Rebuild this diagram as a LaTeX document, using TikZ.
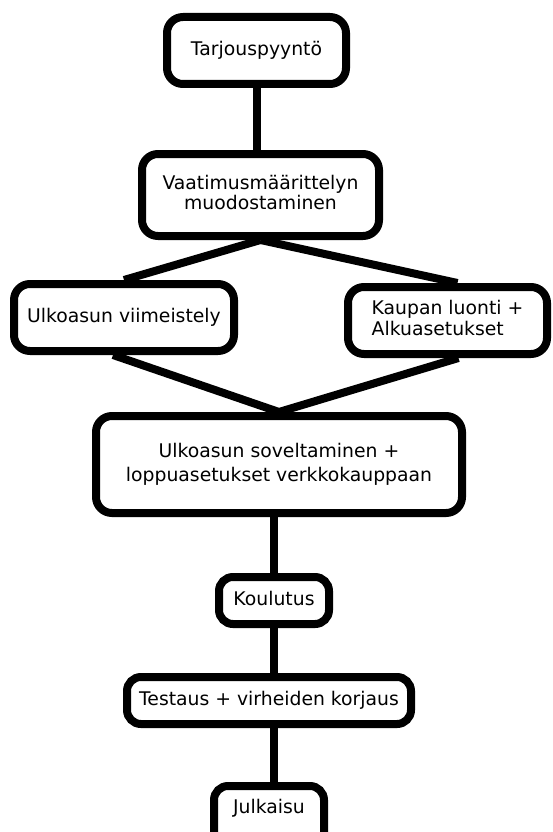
\documentclass[tikz,border=0pt]{standalone}
\usepackage{fontspec}
\setmainfont{DejaVu Sans}
\usetikzlibrary{backgrounds}
\newcommand\kstrut{\rule[-5pt]{0pt}{19pt}}
\begin{document}
\begin{tikzpicture}[x=1pt,y=-1pt,
  box/.style={draw, line width=8pt, rounded corners=16pt, fill=white,
    font=\fontsize{18.8}{21}\selectfont, inner sep=0pt, align=center},
  link/.style={line width=8pt}]
\useasboundingbox (0,0) rectangle (552,832);
\node[box, minimum width=179pt, minimum height=67pt] (b1) at (256.5,50.5) {Tarjouspyyntö\kstrut};
\node[box, minimum width=237pt, minimum height=82pt] (b2) at (260.5,195) {Vaatimusmäärittelyn\\[-1pt]muodostaminen\kstrut};
\node[box, minimum width=220pt, minimum height=67pt] (b3) at (124,317.5) {Ulkoasun viimeistely\kstrut};
\node[box, minimum width=199pt, minimum height=67pt, align=left] (b4) at (447.5,320.5) {Kaupan luonti +\\Alkuasetukset\kstrut};
\node[box, minimum width=366pt, minimum height=97pt] (b5) at (279,464.5) {Ulkoasun soveltaminen +\\[3pt]loppuasetukset verkkokauppaan\kstrut};
\node[box, minimum width=110pt, minimum height=47pt, rounded corners=14pt] (b6) at (274,600.5) {Koulutus\kstrut};
\node[box, minimum width=284pt, minimum height=47pt, rounded corners=14pt] (b7) at (269,700.5) {Testaus + virheiden korjaus\kstrut};
\node[box, minimum width=110pt, minimum height=65pt, rounded corners=14pt] (b8) at (269,818.5) {Julkaisu\rule[-25pt]{0pt}{39pt}};
\begin{scope}[on background layer]
\draw[link] (b1.south) -- (b1.south |- b2.north);
\draw[link] (b2.south) -- (b3.north);
\draw[link] (b2.south) -- ([xshift=10pt]b4.north);
\draw[link] ([xshift=-11pt]b3.south) -- (b5.north);
\draw[link] ([xshift=11pt]b4.south) -- (b5.north);
\draw[link] (b5.south -| b6.north) -- (b6.north);
\draw[link] (b6.south) -- (b6.south |- b7.north);
\draw[link] (b6.south |- b7.south) -- (b6.south |- b8.north);
\end{scope}
\end{tikzpicture}
\end{document}
